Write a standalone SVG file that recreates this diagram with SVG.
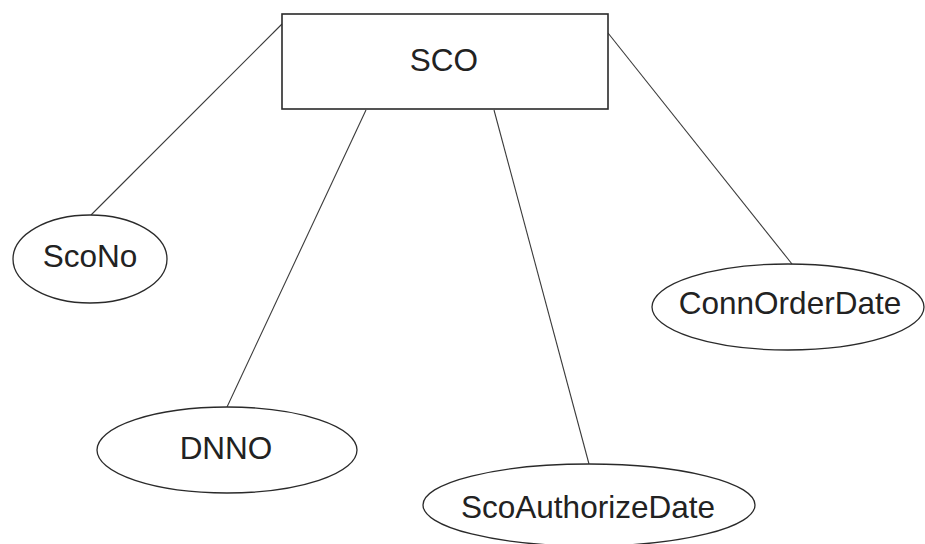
<svg xmlns="http://www.w3.org/2000/svg" width="925" height="544" viewBox="0 0 925 544">
<style>
.bg{fill:#ffffff}
.ent{fill:#ffffff;stroke:#2a2a2a;stroke-width:1.6}
.attr{fill:#ffffff;stroke:#2a2a2a;stroke-width:1.3}
.conn line{stroke:#3a3a3a;stroke-width:1.1;fill:none}
.lbl{font-family:"Liberation Sans",Arial,sans-serif;font-size:31.5px;fill:#222222;text-anchor:middle}
</style>
<rect class="bg" x="0" y="0" width="925" height="544"/>
<g id="connectors" class="conn">
<line x1="282" y1="24" x2="91" y2="215"/>
<line x1="366" y1="110" x2="227" y2="407"/>
<line x1="494" y1="110" x2="589" y2="464"/>
<line x1="608" y1="33" x2="792" y2="264"/>
</g>
<g id="SCO">
<rect class="ent" x="282" y="14" width="326" height="95"/>
<text class="lbl" x="444" y="71">SCO</text>
</g>
<g id="ScoNo">
<ellipse class="attr" cx="90" cy="259" rx="77" ry="44"/>
<text class="lbl" x="90" y="267">ScoNo</text>
</g>
<g id="DNNO">
<ellipse class="attr" cx="227" cy="450" rx="130" ry="43"/>
<text class="lbl" x="226" y="459">DNNO</text>
</g>
<g id="ScoAuthorizeDate">
<ellipse class="attr" cx="589" cy="505" rx="166" ry="41"/>
<text class="lbl" x="588" y="518">ScoAuthorizeDate</text>
</g>
<g id="ConnOrderDate">
<ellipse class="attr" cx="788" cy="307" rx="136" ry="43"/>
<text class="lbl" x="790" y="314">ConnOrderDate</text>
</g>
</svg>
